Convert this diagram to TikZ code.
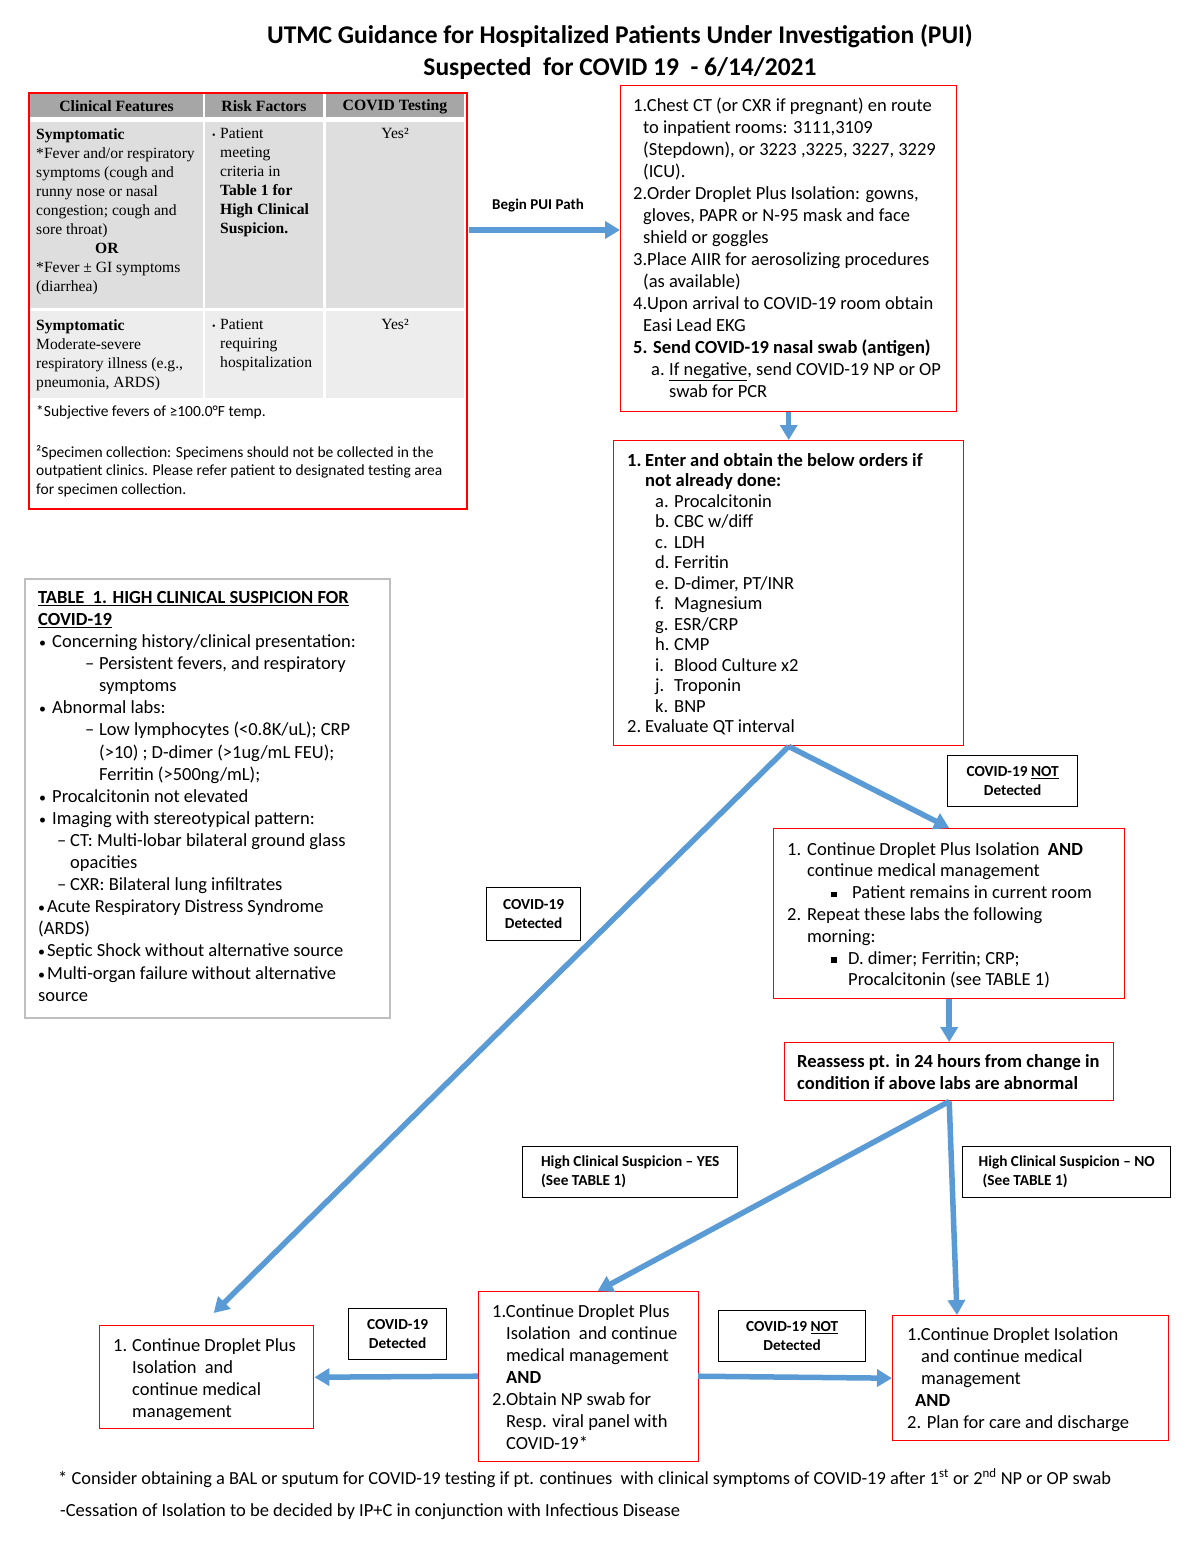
\documentclass[tikz,border=0pt]{standalone}
\usepackage{fontspec}
\setmainfont{Carlito}
\newfontfamily\tnr{Liberation Serif}
\usetikzlibrary{arrows.meta,calc}
\definecolor{arrblue}{HTML}{5B9BD5}
\definecolor{hdrgray}{HTML}{A6A6A6}
\definecolor{rowa}{HTML}{DEDEDE}
\definecolor{rowb}{HTML}{EDEDED}
\definecolor{tgray}{HTML}{BFBFBF}
\newcommand\ind[1]{\hspace*{#1pt}}
\newcommand\sqb{\raisebox{1.5pt}{\rule{5.5pt}{5.5pt}}}
\newcommand\bul{{\fontsize{14}{14}\selectfont •}}
\begin{document}
\begin{tikzpicture}[x=1pt,y=-1pt,
 redbox/.style={draw=red, line width=1.4pt, inner sep=0pt, anchor=north west},
 lblbox/.style={draw=black, line width=1.3pt, inner sep=0pt, anchor=north west, align=center, font=\bfseries\fontsize{15.3}{19}\selectfont},
 txt/.style={inner sep=0pt, anchor=north west, align=left},
 serif/.style={txt, font=\tnr\fontsize{15.6}{19}\selectfont},
 arr/.style={draw=arrblue, line width=5.5pt, -{Triangle[width=17pt,length=15pt]}},
]
\useasboundingbox[fill=white] (0,0) rectangle (1200,1553);

% title
\node[font=\bfseries\fontsize{25.5}{32}\selectfont, align=center] (title) at (620,52)
 {UTMC Guidance for Hospitalized Patients Under Investigation (PUI)\\Suspected\ \ for COVID 19\ \ - 6/14/2021};

% top-left table
\fill[hdrgray] (30,94) rectangle (203,117);
\fill[hdrgray] (205,94) rectangle (323,117);
\fill[hdrgray] (326,94) rectangle (464,117);
\fill[rowa] (30,122) rectangle (203,308);
\fill[rowa] (205,122) rectangle (323,308);
\fill[rowa] (326,122) rectangle (464,308);
\fill[rowb] (30,311) rectangle (203,398);
\fill[rowb] (205,311) rectangle (323,398);
\fill[rowb] (326,311) rectangle (464,398);
\node[redbox, line width=2.2pt, minimum width=438pt, minimum height=416pt] (tl) at (28,92) {};
\node[font=\tnr\bfseries\fontsize{15.7}{18}\selectfont] (h1) at (116.5,106.5) {Clinical Features};
\node[font=\tnr\bfseries\fontsize{15.7}{18}\selectfont] (h2) at (264,106.5) {Risk Factors};
\node[font=\tnr\bfseries\fontsize{15.7}{18}\selectfont] (h3) at (395,106.5) {COVID Testing};
\node[serif] (c11) at (36,128) {\textbf{Symptomatic}\\*Fever and/or respiratory\\symptoms (cough and\\runny nose or nasal\\congestion; cough and\\sore throat)\\\ind{59}\textbf{OR}\\*Fever ± GI symptoms\\(diarrhea)};
\node[serif] (c12) at (212,128) {\makebox[8pt][l]{\fontsize{10}{10}\selectfont•}Patient\\\ind{8}meeting\\\ind{8}criteria in\\\ind{8}\textbf{Table 1 for}\\\ind{8}\textbf{High Clinical}\\\ind{8}\textbf{Suspicion.}};
\node[serif, anchor=north] (c13) at (395,128) {Yes²};
\node[serif] (c21) at (36,319) {\textbf{Symptomatic}\\Moderate-severe\\respiratory illness (e.g.,\\pneumonia, ARDS)};
\node[serif] (c22) at (212,319) {\makebox[8pt][l]{\fontsize{10}{10}\selectfont•}Patient\\\ind{8}requiring\\\ind{8}hospitalization};
\node[serif, anchor=north] (c23) at (395,319) {Yes²};
\node[txt, font=\fontsize{15.5}{18.5}\selectfont] (fnA) at (36,405) {*Subjective fevers of ≥100.0°F temp.};
\node[txt, font=\fontsize{15.5}{18.5}\selectfont] (fnB) at (36,445) {²Specimen collection: Specimens should not be collected in the\\outpatient clinics. Please refer patient to designated testing area\\for specimen collection.};

% box 1
\node[redbox, minimum width=336pt, minimum height=326pt] (b1) at (620,85) {};
\node[txt, font=\fontsize{18.5}{22}\selectfont] (t1) at (633,97.5) {1.Chest CT (or CXR if pregnant) en route\\\ind{10}to inpatient rooms: 3111,3109\\\ind{10}(Stepdown), or 3223 ,3225, 3227, 3229\\\ind{10}(ICU).\\2.Order Droplet Plus Isolation: gowns,\\\ind{10}gloves, PAPR or N-95 mask and face\\\ind{10}shield or goggles\\3.Place AIIR for aerosolizing procedures\\\ind{10}(as available)\\4.Upon arrival to COVID-19 room obtain\\\ind{10}Easi Lead EKG\\\textbf{5. Send COVID-19 nasal swab (antigen)}\\\ind{18}\makebox[18pt][l]{a.}\underline{If negative}, send COVID-19 NP or OP\\\ind{36}swab for PCR};

% box 2
\node[redbox, minimum width=350pt, minimum height=305pt] (b2) at (613,440) {};
\node[txt, font=\fontsize{18.5}{20.5}\selectfont] (t2) at (627,453) {\textbf{\makebox[18pt][l]{1.}Enter and obtain the below orders if}\\\ind{18}\textbf{not already done:}\\\ind{28}\makebox[19pt][l]{a.}Procalcitonin\\\ind{28}\makebox[19pt][l]{b.}CBC w/diff\\\ind{28}\makebox[19pt][l]{c.}LDH\\\ind{28}\makebox[19pt][l]{d.}Ferritin\\\ind{28}\makebox[19pt][l]{e.}D-dimer, PT/INR\\\ind{28}\makebox[19pt][l]{f.}Magnesium\\\ind{28}\makebox[19pt][l]{g.}ESR/CRP\\\ind{28}\makebox[19pt][l]{h.}CMP\\\ind{28}\makebox[19pt][l]{i.}Blood Culture x2\\\ind{28}\makebox[19pt][l]{j.}Troponin\\\ind{28}\makebox[19pt][l]{k.}BNP\\\makebox[18pt][l]{2.}Evaluate QT interval};

% table 1
\node[draw=tgray, line width=2pt, inner sep=0pt, anchor=north west, minimum width=365pt, minimum height=439pt] (tb1) at (24,578) {};
\node[txt, font=\fontsize{18.5}{22.1}\selectfont] (t3) at (38,591) {\underline{\textbf{TABLE\ \ 1. HIGH CLINICAL SUSPICION FOR}}\\\underline{\textbf{COVID-19}}\\\ind{1}\makebox[13pt][l]{\bul}Concerning history/clinical presentation:\\\ind{47}\makebox[14pt][l]{–}Persistent fevers, and respiratory\\\ind{61}symptoms\\\ind{1}\makebox[13pt][l]{\bul}Abnormal labs:\\\ind{47}\makebox[14pt][l]{–}Low lymphocytes (<0.8K/uL); CRP\\\ind{61}(>10) ; D-dimer (>1ug/mL FEU);\\\ind{61}Ferritin (>500ng/mL);\\\ind{1}\makebox[13pt][l]{\bul}Procalcitonin not elevated\\\ind{1}\makebox[13pt][l]{\bul}Imaging with stereotypical pattern:\\\ind{19}\makebox[13pt][l]{–}CT: Multi-lobar bilateral ground glass\\\ind{32}opacities\\\ind{19}\makebox[13pt][l]{–}CXR: Bilateral lung infiltrates\\\ind{0}\makebox[9pt][l]{\bul}Acute Respiratory Distress Syndrome\\(ARDS)\\\ind{0}\makebox[9pt][l]{\bul}Septic Shock without alternative source\\\ind{0}\makebox[9pt][l]{\bul}Multi-organ failure without alternative\\source};

% box 3
\node[redbox, minimum width=351pt, minimum height=170pt] (b3) at (773,828) {};
\node[txt, font=\fontsize{18.5}{21.8}\selectfont] (t4) at (787,842) {\makebox[20pt][l]{1.}Continue Droplet Plus Isolation\ \ \textbf{AND}\\\ind{20}continue medical management\\\ind{44}\makebox[21pt][l]{\sqb}Patient remains in current room\\\makebox[20pt][l]{2.}Repeat these labs the following\\\ind{20}morning:\\\ind{44}\makebox[17pt][l]{\sqb}D. dimer; Ferritin; CRP;\\\ind{61}Procalcitonin (see TABLE 1)};

% box 4
\node[redbox, minimum width=329pt, minimum height=58pt] (b4) at (784,1042) {};
\node[txt, font=\bfseries\fontsize{18.5}{22}\selectfont] (t5) at (797,1054) {Reassess pt. in 24 hours from change in\\condition if above labs are abnormal};

% box 5
\node[redbox, minimum width=220pt, minimum height=170pt] (b5) at (478,1291) {};
\node[txt, font=\fontsize{18.5}{22}\selectfont] (t6) at (492,1304) {1.Continue Droplet Plus\\\ind{14}Isolation\ \ and continue\\\ind{14}medical management\\\ind{14}\textbf{AND}\\2.Obtain NP swab for\\\ind{14}Resp. viral panel with\\\ind{14}COVID-19*};

% box 6
\node[redbox, minimum width=214pt, minimum height=103pt] (b6) at (99,1325) {};
\node[txt, font=\fontsize{18.5}{22}\selectfont] (t7) at (113,1338) {\makebox[19pt][l]{1.}Continue Droplet Plus\\\ind{19}Isolation\ \ and\\\ind{19}continue medical\\\ind{19}management};

% box 7
\node[redbox, minimum width=276pt, minimum height=125pt] (b7) at (892,1315) {};
\node[txt, font=\fontsize{18.5}{22}\selectfont] (t8) at (907,1327) {1.Continue Droplet Isolation\\\ind{14}and continue medical\\\ind{14}management\\\ind{8}\textbf{AND}\\2. Plan for care and discharge};

% label boxes
\node[font=\bfseries\fontsize{15}{18}\selectfont] (lb0) at (538,206) {Begin PUI Path};
\node[lblbox, minimum width=130pt, minimum height=51pt] (lb1) at (947,755) {COVID-19 \underline{NOT}\\Detected};
\node[lblbox, minimum width=94pt, minimum height=53pt] (lb2) at (486,887) {COVID-19\\Detected};
\node[lblbox, align=left, minimum width=215pt, minimum height=51pt] (lb3) at (522,1146) {High Clinical Suspicion – YES\\(See TABLE 1)};
\node[lblbox, align=left, minimum width=208pt, minimum height=51pt] (lb4) at (962,1146) {High Clinical Suspicion – NO\\\ind{4}(See TABLE 1)};
\node[lblbox, minimum width=98pt, minimum height=51pt] (lb5) at (348,1308) {COVID-19\\Detected};
\node[lblbox, minimum width=147pt, minimum height=51pt] (lb6) at (718,1310) {COVID-19 \underline{NOT}\\Detected};

% arrows
\draw[arr] ($(tl.north east)+(1,138)$) -- ($(b1.north west)+(0,145)$);
\draw[arr] (b1.south) -- (b2.north);
\draw[arr] (b2.south) -- ($(b6.north)+(7,-12)$);
\draw[arr] (b2.south) -- (b3.north);
\draw[arr] (b3.south) -- (b4.north);
\draw[arr] (b4.south) -- ($(b5.north)+(9,0)$);
\draw[arr] (b4.south) -- ($(b7.north west)+(65,0)$);
\draw[arr] ($(b5.west)+(0,-0.5)$) -- ($(b6.east)+(0,0)$);
\draw[arr] ($(b5.west)+(220,-0.5)$) -- ($(b7.west)$);

% footer
\node[txt, anchor=west, font=\fontsize{18.4}{22}\selectfont] (ft1) at (58,1478) {* Consider obtaining a BAL or sputum for COVID-19 testing if pt. continues\ \ with clinical symptoms of COVID-19 after 1\textsuperscript{st} or 2\textsuperscript{nd} NP or OP swab};
\node[txt, anchor=west, font=\fontsize{18.5}{22}\selectfont] (ft2) at (60,1512) {-Cessation of Isolation to be decided by IP+C in conjunction with Infectious Disease};
\end{tikzpicture}
\end{document}
